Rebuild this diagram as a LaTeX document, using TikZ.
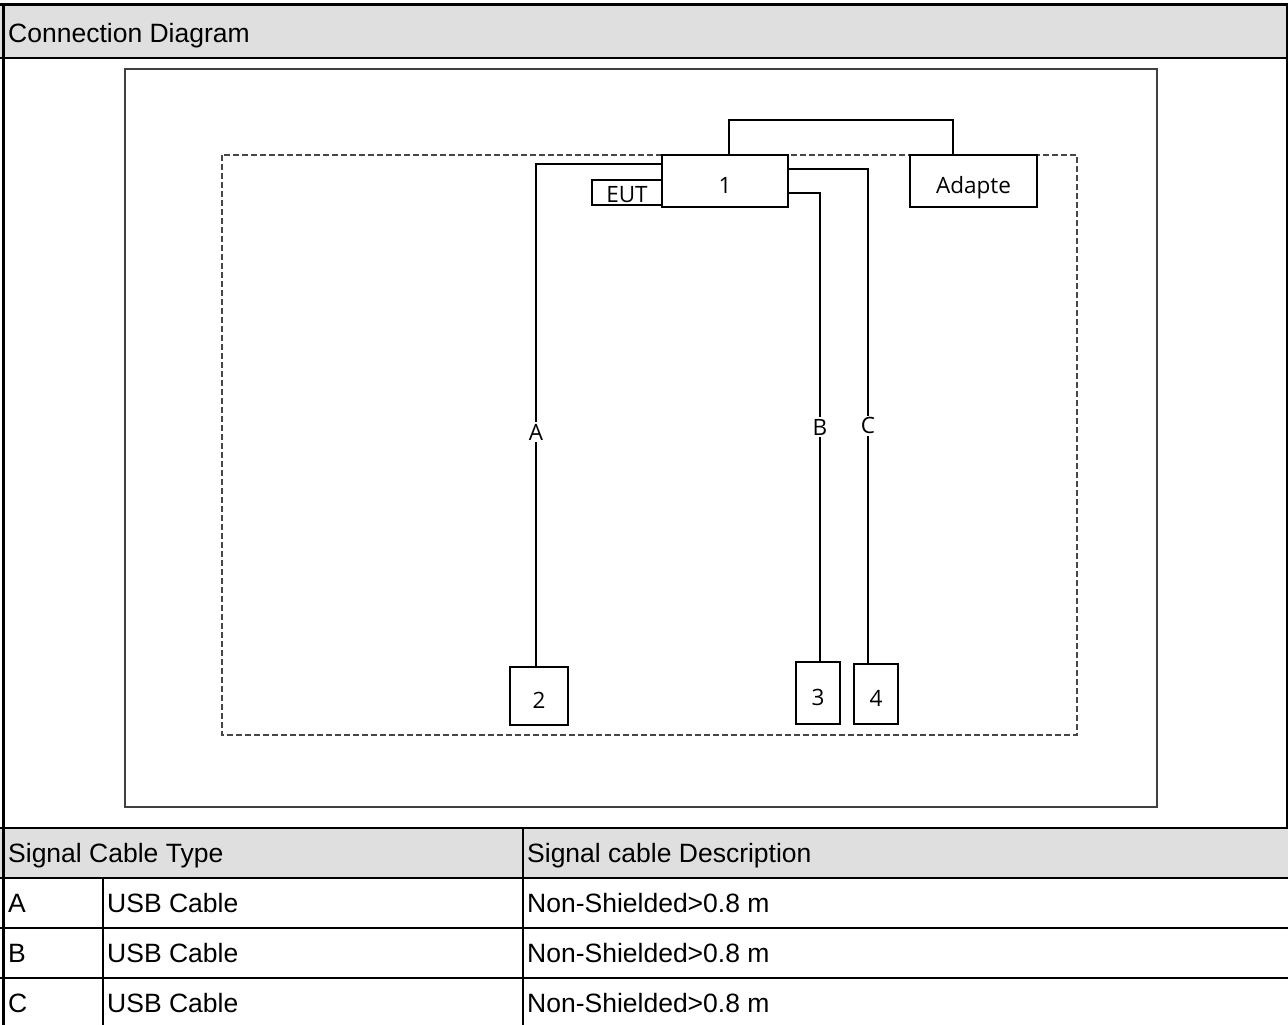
\documentclass[tikz,border=0pt]{standalone}
\usepackage{fontspec}
\setmainfont{Liberation Sans}
\newfontfamily\diafont{Open Sans}
\usetikzlibrary{positioning}
\tikzstyle{unit} = [rectangle, draw=black, fill=white, line width=2pt, inner sep=0pt, text height=25pt, text depth=0pt, font=\diafont\fontsize{22.5}{24}\selectfont]
\tikzstyle{cable} = [line width=2pt]
\tikzstyle{tag} = [fill=white, inner sep=2pt, font=\diafont\fontsize{22.5}{24}\selectfont]
\tikzstyle{cell} = [anchor=base west, inner sep=0pt, font=\fontsize{26.5}{30}\selectfont]
\tikzstyle{rule} = [line width=2.2pt]

\begin{document}
\begin{tikzpicture}[x=1pt, y=-1pt]
\useasboundingbox (0,0) rectangle (1288,1025);
% shaded bars
\fill[gray!25] (0,5) rectangle (1288,58);
\fill[gray!25] (0,828) rectangle (1288,878);
% table rules
\draw[line width=3pt] (0,5) -- (1288,5);
\draw[line width=3pt] (3.5,5) -- (3.5,1025);
\draw[rule] (1287,5) -- (1287,828);
\draw[rule] (0,58) -- (1288,58);
\draw[rule] (0,828) -- (1288,828);
\draw[rule] (0,878) -- (1288,878);
\draw[rule] (0,928) -- (1288,928);
\draw[rule] (0,978) -- (1288,978);
\draw[rule] (523,828) -- (523,1025);
\draw[rule] (103,878) -- (103,1025);
% texts
\node (title) [cell] at (8,42.5) {Connection Diagram};
\node (hdtype) [cell] at (8,862.5) {Signal Cable Type};
\node (hddesc) [cell] at (527,862.5) {Signal cable Description};
\node (typA) [cell] at (8,912.5) {A};
\node (cabA) [cell] at (107,912.5) {USB Cable};
\node (descA) [cell] at (527,912.5) {Non-Shielded>0.8 m};
\node (typB) [cell] at (8,962.5) {B};
\node (cabB) [cell] at (107,962.5) {USB Cable};
\node (descB) [cell] at (527,962.5) {Non-Shielded>0.8 m};
\node (typC) [cell] at (8,1012.5) {C};
\node (cabC) [cell] at (107,1012.5) {USB Cable};
\node (descC) [cell] at (527,1012.5) {Non-Shielded>0.8 m};

% diagram frame and test area
\draw[gray!50!black, line width=2.2pt] (125,69) rectangle (1157,807);
\draw[gray!55!black, line width=2pt, dash pattern=on 6pt off 3pt] (222,155) rectangle (1077,735);

% units
\node (eut) [unit, text height=19pt, minimum width=70pt, minimum height=25pt] at (627,192.5) {EUT};
\node (dev1) [unit, minimum width=126pt, minimum height=52pt] at (725,181) {1};
\node (adp) [unit, minimum width=127pt, minimum height=52pt] at (973.5,181) {Adapte};
\node (pc2) [unit, minimum width=58pt, minimum height=58pt] at (539,696) {2};
\node (pc3) [unit, minimum width=44pt, minimum height=62pt] at (818,693) {3};
\node (pc4) [unit, minimum width=44pt, minimum height=60pt] at (876,694) {4};

% cables
\draw[cable] ([xshift=4pt]dev1.north) -- ++(0,-34) -| ([xshift=-21pt]adp.north);
\draw[cable] ([yshift=-10pt]dev1.north west) -| node[tag, pos=0.767] {A} ([xshift=-3pt]pc2.north);
\draw[cable] ([yshift=-12pt]dev1.east) -| node[tag, pos=0.75] {B} ([xshift=2pt]pc3.north);
\draw[cable] ([yshift=12pt]dev1.east) -| node[tag, pos=0.76] {C} ([xshift=-8pt]pc4.north);
\end{tikzpicture}
\end{document}
